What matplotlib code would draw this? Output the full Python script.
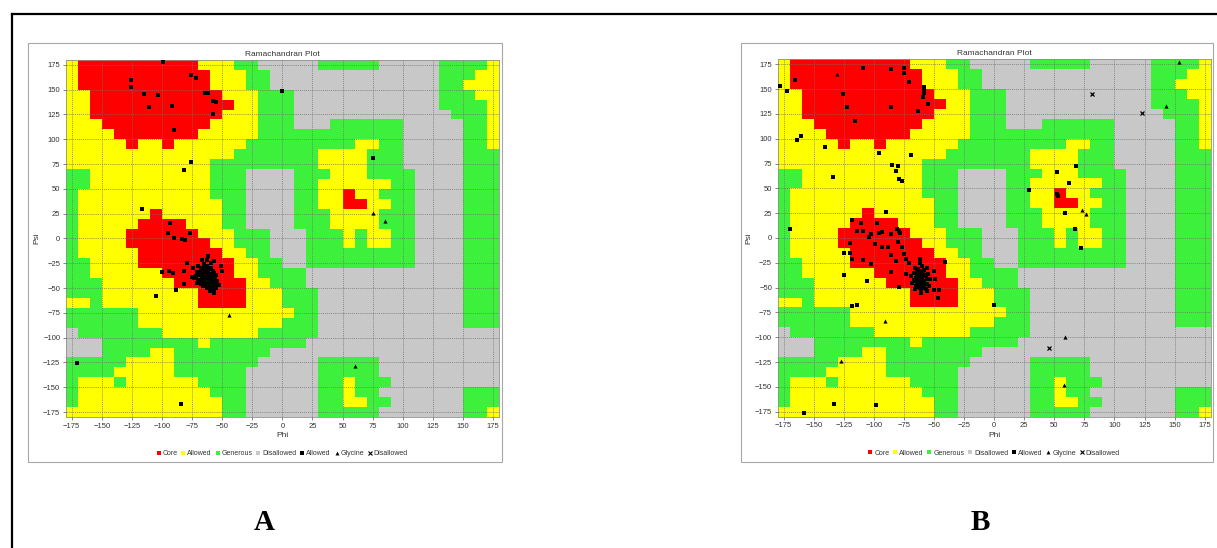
import numpy as np
import matplotlib
matplotlib.use("Agg")
import matplotlib.pyplot as plt
from matplotlib.colors import ListedColormap
from matplotlib.lines import Line2D
from matplotlib.patches import Rectangle

# region map, 10 degree cells, rows from psi=180 down to psi=-180, cols phi=-180..180
# R core, Y allowed, G generous, . disallowed
REGION_ROWS = [
    "YRRRRRRRRRRYYYGG.....GGGGG.....GGGGY",
    "YRRRRRRRRRRRYYYGG..............GGGYY",
    "YRRRRRRRRRRRYYYGG..............GGYYY",
    "YYRRRRRRRRRRRYYYGGG............GGGYY",
    "YYRRRRRRRRRRRRYYGGG............GGGGY",
    "YYRRRRRRRRRRRYYYGGG.............GGGY",
    "YYYRRRRRRRRRYYYYGGG...GGGGGG.....GGY",
    "YYYYRRRRRRRYYYYYGGGGGGGGGGGG.....GGY",
    "YYYYYRYYRYYYYYYGGGGGGGGGYYGG.....GGY",
    "YYYYYYYYYYYYYYGGGGGGGYYYYGGG.....GGG",
    "YYYYYYYYYYYYGGGGGGGGGYYYYGGG.....GGG",
    "GGYYYYYYYYYYGGG....GGGYYYGGGG....GGG",
    "GGYYYYYYYYYYGGG....GGYYYYYYGG....GGG",
    "GYYYYYYYYYYYGGG....GGYYRYYGGG....GGG",
    "GYYYYYYYYYYYYGG....GGYYRRYYGG....GGG",
    "GYYYYYYRYYYYYGG....GGGYYYYGGG....GGG",
    "GYYYYYRRRRYYYGG....GGGYYYYGGG....GGG",
    "GYYYYRRRRRRYYYGGG...GGGYGYYGG....GGG",
    "GYYYYRRRRRRRYYGGG...GGGYGYYGG....GGG",
    "GYYYYYRRRRRRRYYGG...GGGGGGGGG....GGG",
    "GGYYYYRRRRRRRRYYGG..GGGGGGGGG....GGG",
    "GGYYYYYYRRRRRRYYGGGG.............GGG",
    "GGGYYYYYYRRRRRRYYGGG.............GGG",
    "GGGYYYYYYYYRRRRYYYGGG............GGG",
    "YYGYYYYYYYYRRRRYYYGGG............GGG",
    "GGGGGGYYYYYYYYYYYYYGG............GGG",
    "GGGGGGYYYYYYYYYYYYGGG............GGG",
    ".GGGGGGGYYYYYYYYGGGGG...............",
    "...GGGGGGGGYGGGGGGGG................",
    "...GGGGYYGGGGGGGG...................",
    "GGGGGYYYYGGGGGGG.....GGGGG..........",
    "GGGGYYYYYGGGGGG......GGGGG..........",
    "GYYYGYYYYYYGGGG......GGYGGG.........",
    "GYYYYYYYYYYYGGG......GGYGG.......GGG",
    "GYYYYYYYYYYYYGG......GGYYGG......GGG",
    "YYYYYYYYYYYYYGG......GGGGG.......GGY",
]

# plot A: general residues (squares) and glycine (triangles)
a_phi = [-99, -126, -126, -115, -103, -111, -92, -76, -72, -64, -62, -58, -55, -58, -90,
         -76, -82, 0, 75, -117, -93, -95, -90, -83, -81, -77, -79, -82, -100, -94, -91,
         -75, -82, -88, -105, -74, -62, -67, -57, -51, -50, -171, -84,
         -70, -68, -66, -64, -62, -60, -58, -56, -65, -63, -61, -59, -57, -67, -69, -71,
         -66, -64, -62, -60, -58, -56, -54, -55, -60, -63, -68, -70, -72, -65, -63, -61,
         -59, -66, -62, -64, -60, -58, -67, -65, -61, -57, -55, -69, -71, -73, -63, -59,
         -53, -57,
         -68, -66, -64, -62, -60, -58, -56, -59, -61, -63, -65, -67, -57, -55, -60, -62,
         -64, -66, -68, -58]
a_psi = [178, 160, 153, 146, 145, 133, 134, 165, 162, 147, 147, 139, 138, 126, 109,
         77, 69, 149, 81, 30, 16, 6, 0, -1, -2, 6, -25, -33, -34, -33, -35,
         -39, -46, -52, -58, -30, -18, -22, -23, -28, -33, -126, -167,
         -28, -32, -35, -38, -40, -42, -45, -47, -42, -45, -48, -50, -52, -40, -37, -34,
         -44, -30, -33, -36, -38, -40, -43, -50, -53, -50, -46, -42, -38, -26, -28, -31,
         -30, -48, -37, -34, -46, -41, -37, -39, -43, -35, -37, -43, -45, -40, -22, -25,
         -47, -55,
         -30, -33, -36, -42, -44, -47, -44, -39, -36, -48, -45, -43, -49, -45, -50, -47,
         -41, -38, -35, -33]
a_gly_phi = [-44, 75, 85, 60]
a_gly_psi = [-77, 26, 18, -129]

# plot B
b_phi = [-178, -172, -166, -126, -122, -116, -109, -86, -86, -75, -75, -71, -58, -58,
         -58, -59, -55, -63, -164, -161, -141, -96, -69, -85, -80, -82, -79, -77, -134,
         -170, -90, 29, 52, 68, 52, 53, 62, 59, 67, 72, 0, -125, -125, -118, -114, -106,
         -158, -133, -98, -41,
         -118, -111, -114, -109, -104, -97, -102, -96, -93, -86, -79, -81, -78, -120, -120,
         -118, -109, -102, -99, -93, -88, -86, -82, -80, -77, -75, -73, -71, -86, -79, -73,
         -68, -66, -61, -57, -50, -49, -50, -47, -46, -62, -63,
         -66, -64, -62, -60, -58, -56, -54, -65, -63, -61, -59, -57, -55, -60, -62, -64,
         -67, -69, -58, -56, -53, -61, -65, -59, -63, -67, -60,
         -64, -62, -60, -58, -56, -61, -63, -59, -57, -65, -60, -62, -58, -64, -56]
b_psi = [153, 148, 159, 145, 132, 118, 171, 170, 132, 171, 166, 157, 152, 149,
         146, 142, 135, 128, 99, 103, 92, 86, 84, 74, 73, 67, 59, 57, 61,
         9, 26, 48, 66, 73, 44, 42, 55, 25, 9, -10, -67, -37, -15, -69, -67, -43,
         -176, -167, -168, -24,
         18, 15, 7, 7, 1, 15, 4, 5, 6, 4, 7, 9, 5, -5, -15,
         -21, -22, -26, -6, -9, -9, -17, -23, -4, -9, -16, -21, -25, -34, -49, -36,
         -45, -51, -55, -51, -33, -41, -52, -60, -52, -21, -35,
         -30, -33, -38, -40, -43, -46, -48, -40, -44, -47, -50, -38, -36, -28, -25, -45,
         -42, -38, -32, -30, -41, -52, -48, -36, -40, -35, -34,
         -38, -42, -45, -48, -41, -33, -31, -44, -46, -43, -39, -50, -37, -49, -53]
b_gly_phi = [-131, -91, -127, 59, 58, 73, 76, 143, 154]
b_gly_psi = [165, -84, -124, -100, -148, 28, 24, 133, 177]
b_out_phi = [81, 123, 46]
b_out_psi = [145, 126, -111]

ticks = list(range(-175, 176, 25))
region_colors = ["#c8c8c8", "#3cf03c", "#ffff00", "#ff0000"]
code = {".": 0, "G": 1, "Y": 2, "R": 3}

grid = np.array([[code[ch] for ch in row] for row in REGION_ROWS])
grid = np.flipud(grid)
edges = np.arange(-180, 181, 10)
cmap = ListedColormap(region_colors)

plt.rcParams["font.family"] = ["Liberation Sans", "DejaVu Sans"]

fig = plt.figure(figsize=(12.17, 5.48), dpi=100)


def rama_panel(rect, frame, phi, psi, gphi, gpsi, ophi=None, opsi=None):
    fig.add_artist(Rectangle((frame[0], frame[1]), frame[2], frame[3],
                             transform=fig.transFigure, fill=False,
                             ec="#a8a8a8", lw=0.8))
    ax = fig.add_axes(rect)
    ax.pcolormesh(edges, edges, grid, cmap=cmap, vmin=-0.5, vmax=3.5, zorder=0)
    ax.set_xlim(-180, 180)
    ax.set_ylim(-180, 180)
    ax.set_xticks(ticks)
    ax.set_yticks(ticks)
    ax.tick_params(labelsize=5.5, length=2, width=0.5, colors="#555555",
                   labelcolor="#333333", pad=2)
    ax.grid(True, color="#707070", lw=0.5, ls=(0, (1.5, 1.5)), zorder=1)
    ax.set_axisbelow(False)
    for s in ax.spines.values():
        s.set_color("#909090")
        s.set_linewidth(0.6)
    ax.set_title("Ramachandran Plot", fontsize=6, color="#333333", pad=3)
    ax.set_xlabel("Phi", fontsize=6, color="#333333", labelpad=2)
    ax.set_ylabel("Psi", fontsize=6, color="#333333", labelpad=2)

    ax.plot(phi, psi, "s", color="black", ms=3.1, mew=0, zorder=3)
    ax.plot(gphi, gpsi, "^", color="black", ms=3.0, mew=0, zorder=3)
    if ophi:
        ax.plot(ophi, opsi, "x", color="black", ms=3.0, mew=0.9, zorder=3)

    handles = [
        Line2D([], [], ls="", marker="s", ms=2.3, mew=0, color=region_colors[3]),
        Line2D([], [], ls="", marker="s", ms=2.3, mew=0, color=region_colors[2]),
        Line2D([], [], ls="", marker="s", ms=2.3, mew=0, color=region_colors[1]),
        Line2D([], [], ls="", marker="s", ms=2.3, mew=0, color=region_colors[0]),
        Line2D([], [], ls="", marker="s", ms=2.8, mew=0, color="black"),
        Line2D([], [], ls="", marker="^", ms=2.8, mew=0, color="black"),
        Line2D([], [], ls="", marker="x", ms=2.8, mew=0.8, color="black"),
    ]
    names = ["Core", "Allowed", "Generous", "Disallowed", "Allowed", "Glycine", "Disallowed"]
    ax.legend(handles, names, loc="upper center", bbox_to_anchor=(0.5, -0.085),
              ncol=7, frameon=False, fontsize=5, handlelength=0.5,
              handletextpad=0.3, columnspacing=0.6, borderaxespad=0,
              labelcolor="#333333")
    return ax


rama_panel([0.0540, 0.2391, 0.3560, 0.6515], [0.0230, 0.1569, 0.3895, 0.7646],
           a_phi, a_psi, a_gly_phi, a_gly_psi)
rama_panel([0.6390, 0.2396, 0.3558, 0.6522], [0.6089, 0.1569, 0.3878, 0.7646],
           b_phi, b_psi, b_gly_phi, b_gly_psi, b_out_phi, b_out_psi)

# page frame lines
fig.add_artist(Line2D([0.0099, 1.0], [0.9745, 0.9745], transform=fig.transFigure,
                      color="black", lw=1.6))
fig.add_artist(Line2D([0.0099, 0.0099], [0.0, 0.9745], transform=fig.transFigure,
                      color="black", lw=1.6))

fig.text(264 / 1217, 1 - 523 / 548, "A", ha="center", va="center",
         fontsize=21, fontweight="bold", family="Liberation Serif")
fig.text(980 / 1217, 1 - 523 / 548, "B", ha="center", va="center",
         fontsize=21, fontweight="bold", family="Liberation Serif")

fig.savefig("out.png", dpi=100)
